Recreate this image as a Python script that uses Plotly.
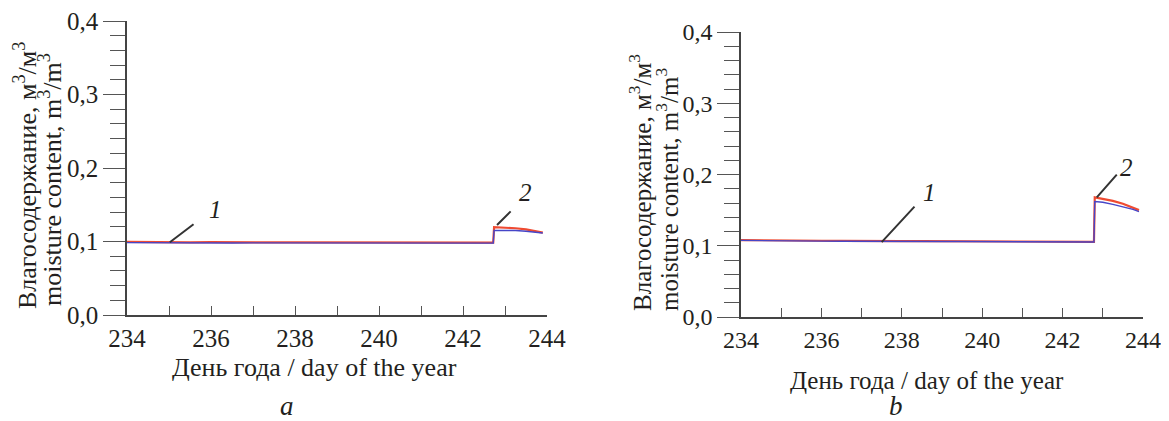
import plotly.graph_objects as go

# ---------------- data ----------------
days_a = [234.0, 234.5, 235.0, 235.5, 236.0, 236.5, 237.0, 237.5, 238.0, 238.5,
          239.0, 239.5, 240.0, 240.5, 241.0, 241.5, 242.0, 242.5, 242.72, 242.74,
          243.0, 243.25, 243.5, 243.75, 243.9]
red_a = [0.0995, 0.0990, 0.0990, 0.0988, 0.0992, 0.0988, 0.0990, 0.0988, 0.0988, 0.0987,
         0.0988, 0.0987, 0.0988, 0.0986, 0.0987, 0.0986, 0.0986, 0.0986, 0.0986, 0.1195,
         0.1190, 0.1180, 0.1165, 0.1140, 0.1120]
blue_a = [0.0985, 0.0982, 0.0982, 0.0980, 0.0982, 0.0980, 0.0981, 0.0980, 0.0980, 0.0979,
          0.0980, 0.0979, 0.0979, 0.0978, 0.0979, 0.0978, 0.0978, 0.0978, 0.0978, 0.1150,
          0.1155, 0.1150, 0.1140, 0.1130, 0.1115]

days_b = [234.0, 234.5, 235.0, 235.5, 236.0, 236.5, 237.0, 237.5, 238.0, 238.5,
          239.0, 239.5, 240.0, 240.5, 241.0, 241.5, 242.0, 242.5, 242.78, 242.80,
          243.0, 243.25, 243.5, 243.75, 243.9]
red_b = [0.1080, 0.1075, 0.1070, 0.1072, 0.1070, 0.1068, 0.1070, 0.1065, 0.1065, 0.1065,
         0.1065, 0.1063, 0.1063, 0.1062, 0.1060, 0.1058, 0.1055, 0.1055, 0.1055, 0.1680,
         0.1660, 0.1630, 0.1590, 0.1540, 0.1500]
blue_b = [0.1075, 0.1070, 0.1066, 0.1067, 0.1065, 0.1064, 0.1065, 0.1061, 0.1061, 0.1060,
          0.1060, 0.1059, 0.1058, 0.1055, 0.1054, 0.1053, 0.1052, 0.1052, 0.1052, 0.1620,
          0.1610, 0.1580, 0.1550, 0.1510, 0.1480]

x_range = [234, 244]
y_range = [0, 0.4]

y_title_ru = "Влагосодержание, м<sup>3</sup>/м<sup>3</sup>"
y_title_en = "moisture content, m<sup>3</sup>/m<sup>3</sup>"
x_title = "День года / day of the year"

# curve labels: (label, point on curve x, y, leader end x, y, text x, y)
labels_a = [("1", 235.02, 0.099, 235.62, 0.125, 236.1, 0.143),
            ("2", 242.81, 0.1224, 243.17, 0.143, 243.48, 0.166)]
labels_b = [("1", 237.5, 0.105, 238.35, 0.157, 238.68, 0.1754),
            ("2", 242.85, 0.168, 243.38, 0.202, 243.6, 0.2105)]

FONT = "Liberation Serif, Times New Roman, DejaVu Serif, serif"
TXT = "#231f20"
RED = "#ef4b32"
BLUE = "#4646c8"

# the page body adds an 8px margin; the figure is sized so it fills the window
OFF = 8
W, H = 1169 - OFF, 421 - OFF

fig = go.Figure()

def add_panel(days, red, blue, xa, ya):
    fig.add_trace(go.Scatter(x=days, y=red, mode="lines", xaxis=xa, yaxis=ya,
                             line=dict(color=RED, width=2.2), showlegend=False))
    fig.add_trace(go.Scatter(x=days, y=blue, mode="lines", xaxis=xa, yaxis=ya,
                             line=dict(color=BLUE, width=1.4), showlegend=False))

add_panel(days_a, red_a, blue_a, "x", "y")
add_panel(days_b, red_b, blue_b, "x2", "y2")

def px_x(p):
    return (p - OFF) / W

def px_y(p):
    return 1 - (p - OFF) / H

def xaxis_style(domain, anchor, fs):
    return dict(domain=domain, anchor=anchor, range=x_range, dtick=2, tick0=234,
                automargin=False, ticklabeloverflow="allow",
                showgrid=False, zeroline=False, showline=True, linecolor="#444",
                linewidth=1.5, ticks="inside", ticklen=9, tickwidth=1.3, tickcolor="#555",
                minor=dict(dtick=1, tick0=234, ticks="inside", ticklen=9, tickwidth=1.3,
                           tickcolor="#555", showgrid=False),
                tickfont=dict(family=FONT, size=fs, color=TXT))

def yaxis_style(domain, anchor, fs):
    return dict(domain=domain, anchor=anchor, range=y_range, dtick=0.1, tick0=0,
                automargin=False, ticklabeloverflow="allow",
                tickformat=".1f", showgrid=False, zeroline=False, showline=True,
                linecolor="#444", linewidth=1.5, ticks="outside", ticklen=22,
                tickwidth=1.3, tickcolor="#555",
                minor=dict(dtick=0.02, tick0=0, ticks="outside", ticklen=15, tickwidth=1.3,
                           tickcolor="#555", showgrid=False),
                tickfont=dict(family=FONT, size=fs, color=TXT))

fig.update_layout(
    template="none",
    width=W, height=H, margin=dict(l=0, r=0, t=0, b=0, pad=0, autoexpand=False),
    font=dict(family=FONT, size=25, color=TXT),
    paper_bgcolor="white", plot_bgcolor="white", separators=",.",
    xaxis=xaxis_style([px_x(127), px_x(547)], "y", 25),
    yaxis=yaxis_style([px_y(315), px_y(21)], "x", 25),
    xaxis2=xaxis_style([px_x(741), px_x(1143)], "y2", 24),
    yaxis2=yaxis_style([px_y(317), px_y(32)], "x2", 24),
)

ann = []
# axis titles
ann.append(dict(text=y_title_ru, xref="paper", yref="paper", x=px_x(25), y=px_y(176),
                textangle=-90, showarrow=False, xanchor="center", yanchor="middle",
                font=dict(family=FONT, size=26, color=TXT)))
ann.append(dict(text=y_title_en, xref="paper", yref="paper", x=px_x(50), y=px_y(180),
                textangle=-90, showarrow=False, xanchor="center", yanchor="middle",
                font=dict(family=FONT, size=26, color=TXT)))
ann.append(dict(text=y_title_ru, xref="paper", yref="paper", x=px_x(640), y=px_y(183),
                textangle=-90, showarrow=False, xanchor="center", yanchor="middle",
                font=dict(family=FONT, size=25, color=TXT)))
ann.append(dict(text=y_title_en, xref="paper", yref="paper", x=px_x(667), y=px_y(190),
                textangle=-90, showarrow=False, xanchor="center", yanchor="middle",
                font=dict(family=FONT, size=25, color=TXT)))
ann.append(dict(text=x_title, xref="paper", yref="paper", x=px_x(314), y=px_y(367),
                showarrow=False, xanchor="center", yanchor="middle",
                font=dict(family=FONT, size=26, color=TXT)))
ann.append(dict(text=x_title, xref="paper", yref="paper", x=px_x(927), y=px_y(380),
                showarrow=False, xanchor="center", yanchor="middle",
                font=dict(family=FONT, size=25, color=TXT)))
ann.append(dict(text="<i>a</i>", xref="paper", yref="paper", x=px_x(287), y=px_y(421),
                showarrow=False, xanchor="center", yanchor="bottom", yshift=-2,
                font=dict(family=FONT, size=27, color=TXT)))
ann.append(dict(text="<i>b</i>", xref="paper", yref="paper", x=px_x(896), y=px_y(421),
                showarrow=False, xanchor="center", yanchor="bottom", yshift=-2,
                font=dict(family=FONT, size=27, color=TXT)))

for labels, xr, yr in ((labels_a, "x", "y"), (labels_b, "x2", "y2")):
    for lab, cx, cy, ex, ey, tx, ty in labels:
        ann.append(dict(x=cx, y=cy, ax=ex, ay=ey, xref=xr, yref=yr, axref=xr, ayref=yr,
                        text="", showarrow=True, arrowhead=0, arrowwidth=2,
                        arrowcolor="#333", standoff=0, startstandoff=0))
        ann.append(dict(x=tx, y=ty, xref=xr, yref=yr, text="<i>" + lab + "</i>",
                        showarrow=False, xanchor="center", yanchor="middle",
                        font=dict(family=FONT, size=25, color=TXT)))

fig.update_layout(annotations=ann)

fig.write_html("out.html")
